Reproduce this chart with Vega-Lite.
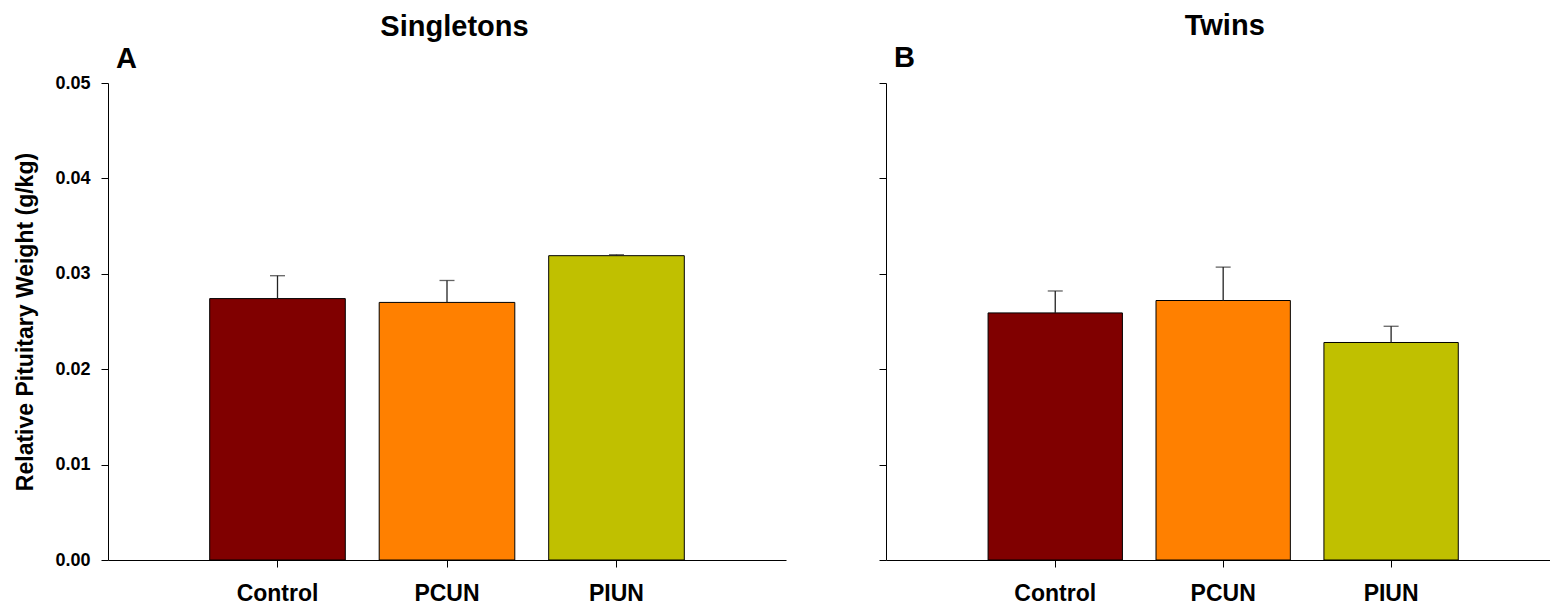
{
  "$schema": "https://vega.github.io/schema/vega-lite/v6.json",
  "padding": {"left": 14, "top": 11, "right": 0, "bottom": 0},
  "background": "white",
  "config": {
    "view": {"stroke": null},
    "font": "Liberation Sans",
    "axis": {"domainColor": "black", "tickColor": "black", "tickSize": 7, "grid": false, "labelFont": "Liberation Sans", "labelFontWeight": "bold", "labelColor": "black", "titleFont": "Liberation Sans", "titleColor": "black", "titleFontWeight": "bold"},
    "title": {"font": "Liberation Sans", "fontWeight": "bold", "color": "black", "fontSize": 29}
  },
  "datasets": {
    "pit": [
      {"group": "Singletons", "treatment": "Control", "mean": 0.0274, "upper": 0.0298},
      {"group": "Singletons", "treatment": "PCUN", "mean": 0.0270, "upper": 0.0293},
      {"group": "Singletons", "treatment": "PIUN", "mean": 0.0319, "upper": 0.0320},
      {"group": "Twins", "treatment": "Control", "mean": 0.0259, "upper": 0.0282},
      {"group": "Twins", "treatment": "PCUN", "mean": 0.0272, "upper": 0.0307},
      {"group": "Twins", "treatment": "PIUN", "mean": 0.0228, "upper": 0.0245}
    ]
  },
  "spacing": 92,
  "hconcat": [
    {
      "title": {"text": "Singletons", "anchor": "middle", "dx": 54, "offset": 3},
      "vconcat": [
        {
          "width": 678,
          "height": 477,
          "data": {"name": "pit"},
          "transform": [{"filter": "datum.group === 'Singletons'"}],
          "title": {"text": "A", "anchor": "start", "frame": "group", "dx": 8, "offset": 0},
          "encoding": {
            "x": {"field": "treatment", "type": "nominal", "sort": ["Control", "PCUN", "PIUN"],
              "scale": {"paddingInner": 0.2, "paddingOuter": 0.6},
              "axis": {"title": null, "labelAngle": 0, "labelFontSize": 23, "labelPadding": 15}}
          },
          "layer": [
            {
              "mark": {"type": "bar", "stroke": "black", "strokeWidth": 1},
              "encoding": {
                "y": {"field": "mean", "type": "quantitative", "scale": {"domain": [0, 0.05]},
                  "axis": {"title": "Relative Pituitary Weight (g/kg)", "titleFontSize": 23, "titlePadding": 17, "values": [0, 0.01, 0.02, 0.03, 0.04, 0.05], "format": ".2f", "labelFontSize": 18, "labelPadding": 11}},
                "color": {"field": "treatment", "type": "nominal", "scale": {"domain": ["Control", "PCUN", "PIUN"], "range": ["#800000", "#ff8000", "#c0c000"]}, "legend": null}
              }
            },
            {
              "mark": {"type": "rule", "color": "#222", "strokeWidth": 1.3},
              "encoding": {"y": {"field": "mean", "type": "quantitative"}, "y2": {"field": "upper"}}
            },
            {
              "mark": {"type": "tick", "color": "#222", "thickness": 1.3, "size": 15},
              "encoding": {"y": {"field": "upper", "type": "quantitative"}}
            }
          ]
        }
      ]
    },
    {
      "title": {"text": "Twins", "anchor": "middle", "dx": 10, "offset": 3},
      "vconcat": [
        {
          "width": 665,
          "height": 477,
          "data": {"name": "pit"},
          "transform": [{"filter": "datum.group === 'Twins'"}],
          "title": {"text": "B", "anchor": "start", "frame": "group", "dx": 8, "offset": 10},
          "encoding": {
            "x": {"field": "treatment", "type": "nominal", "sort": ["Control", "PCUN", "PIUN"],
              "scale": {"paddingInner": 0.2, "paddingOuter": 0.58, "align": 0.524},
              "axis": {"title": null, "labelAngle": 0, "labelFontSize": 23, "labelPadding": 15}}
          },
          "layer": [
            {
              "mark": {"type": "bar", "stroke": "black", "strokeWidth": 1},
              "encoding": {
                "y": {"field": "mean", "type": "quantitative", "scale": {"domain": [0, 0.05]},
                  "axis": {"title": null, "values": [0, 0.01, 0.02, 0.03, 0.04, 0.05], "labels": false}},
                "color": {"field": "treatment", "type": "nominal", "scale": {"domain": ["Control", "PCUN", "PIUN"], "range": ["#800000", "#ff8000", "#c0c000"]}, "legend": null}
              }
            },
            {
              "mark": {"type": "rule", "color": "#222", "strokeWidth": 1.3},
              "encoding": {"y": {"field": "mean", "type": "quantitative"}, "y2": {"field": "upper"}}
            },
            {
              "mark": {"type": "tick", "color": "#222", "thickness": 1.3, "size": 15},
              "encoding": {"y": {"field": "upper", "type": "quantitative"}}
            }
          ]
        }
      ]
    }
  ]
}
